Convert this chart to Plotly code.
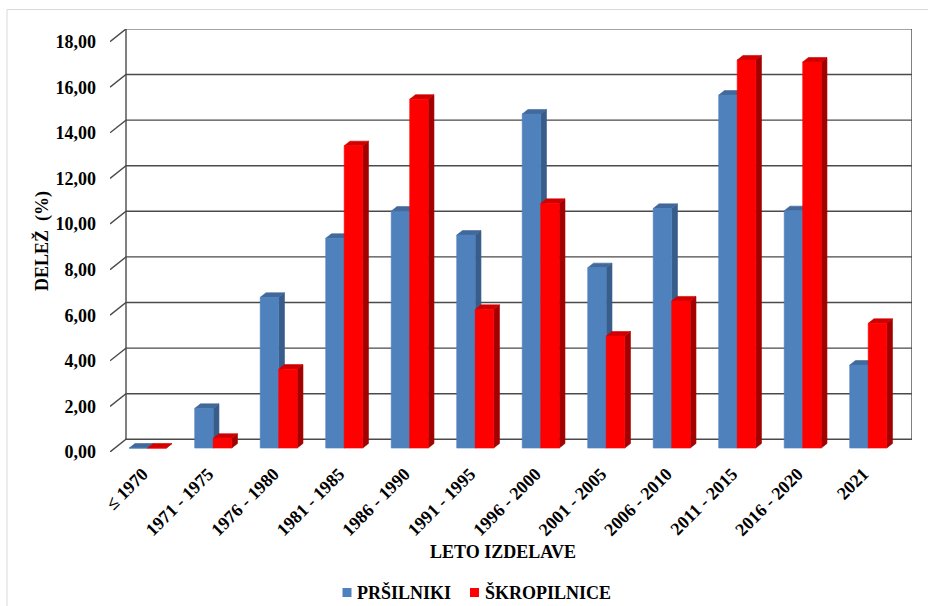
import plotly.graph_objects as go

# --- data -------------------------------------------------------------
categories = ["≤ 1970", "1971 - 1975", "1976 - 1980", "1981 - 1985", "1986 - 1990",
              "1991 - 1995", "1996 - 2000", "2001 - 2005", "2006 - 2010",
              "2011 - 2015", "2016 - 2020", "2021"]
prsilniki = [0.0, 1.74, 6.61, 9.20, 10.39, 9.34, 14.65, 7.91, 10.51, 15.48, 10.41, 3.64]
skropilnice = [0.0, 0.43, 3.46, 13.26, 15.30, 6.08, 10.73, 4.91, 6.45, 17.02, 16.93, 5.47]
y_ticks = [0, 2, 4, 6, 8, 10, 12, 14, 16, 18]
y_tick_labels = ["0,00", "2,00", "4,00", "6,00", "8,00", "10,00",
                 "12,00", "14,00", "16,00", "18,00"]
series_names = ["PRŠILNIKI", "ŠKROPILNICE"]

# --- geometry (pixels) -------------------------------------------------
W, H = 928, 606
PLOT_L, PLOT_R, PLOT_T, PLOT_B = 110, 912, 29, 452
PX_X = 65.5          # pixels per category
PX_Y = 22.8          # pixels per value unit
DX = 16 / PX_X       # depth of the chart box, x units
DY = 12.7 / PX_Y     # depth of the chart box, y units
Z0, Z1 = 0.31, 0.67  # depth slice occupied by the bars
BAR_W = 18.5 / PX_X

n = len(categories)
x_range = [-0.5, -0.5 + (PLOT_R - PLOT_L) / PX_X]
y_range = [0, (PLOT_B - PLOT_T) / PX_Y]

FONT = "Liberation Serif, Times New Roman, serif"
FS = 18
WALL = "#4a4a4a"

series_colors = [
    dict(front="#4F81BD", side="#385D8A", top="#41699B"),
    dict(front="#FF0000", side="#A30000", top="#D00000"),
]


def px_to_paper_x(px):
    return (px - PLOT_L) / (PLOT_R - PLOT_L)


def px_to_paper_y(py):
    return (PLOT_B - py) / (PLOT_B - PLOT_T)


fig = go.Figure()

# back wall: gridlines, depth diagonals and wall edges
gx, gy = [], []
for t in y_ticks:
    gx += [-0.5, -0.5 + DX, n - 0.5 + DX, None]
    gy += [t, t + DY, t + DY, None]
for xe in (-0.5 + DX, n - 0.5 + DX):
    gx += [xe, xe, None]
    gy += [DY, y_ticks[-1] + DY, None]
fig.add_trace(go.Scatter(x=gx, y=gy, mode="lines",
                         line=dict(color=WALL, width=1.4),
                         hoverinfo="skip", showlegend=False))

# 3-D looking bars: side, top and front faces per series
for s, values in enumerate([prsilniki, skropilnice]):
    faces = {"side": ([], []), "top": ([], []), "front": ([], [])}
    ddx, ddy = (Z1 - Z0) * DX, (Z1 - Z0) * DY
    for i, v in enumerate(values):
        xl = i + Z0 * DX + (s - 1) * BAR_W
        xr = xl + BAR_W
        b0, b1 = Z0 * DY, Z1 * DY
        fx, fy = faces["side"]
        fx += [xr, xr + ddx, xr + ddx, xr, xr, None]
        fy += [b0, b1, v + b1, v + b0, b0, None]
        fx, fy = faces["top"]
        fx += [xl, xr, xr + ddx, xl + ddx, xl, None]
        fy += [v + b0, v + b0, v + b1, v + b1, v + b0, None]
        fx, fy = faces["front"]
        fx += [xl, xr, xr, xl, xl, None]
        fy += [b0, b0, v + b0, v + b0, b0, None]
    for face in ("side", "top", "front"):
        fx, fy = faces[face]
        col = series_colors[s][face]
        fig.add_trace(go.Scatter(x=fx, y=fy, mode="lines", fill="toself",
                                 fillcolor=col, line=dict(color=col, width=0.6),
                                 hoverinfo="skip", showlegend=False,
                                 name=series_names[s]))

# chart border and legend drawn below the axis title
shapes = [dict(type="rect", xref="paper", yref="paper",
               x0=px_to_paper_x(7), x1=px_to_paper_x(940),
               y0=px_to_paper_y(9.5), y1=px_to_paper_y(620),
               line=dict(color="#D9D9D9", width=1), layer="below")]
annotations = []
legend_items = [(342.5, 355, 0), (470, 483, 1)]
for sq_x, tx, s in legend_items:
    shapes.append(dict(type="rect", xref="paper", yref="paper",
                       x0=px_to_paper_x(sq_x), x1=px_to_paper_x(sq_x + 9),
                       y0=px_to_paper_y(588), y1=px_to_paper_y(597),
                       fillcolor=series_colors[s]["front"], line=dict(width=0)))
    annotations.append(dict(text="<b>" + series_names[s] + "</b>",
                            xref="paper", yref="paper",
                            x=px_to_paper_x(tx), y=px_to_paper_y(592),
                            xanchor="left", yanchor="middle", showarrow=False,
                            font=dict(family=FONT, size=FS, color="black")))

annotations.append(dict(text="<b>LETO IZDELAVE</b>", xref="paper", yref="paper",
                        x=px_to_paper_x(503), y=px_to_paper_y(552),
                        xanchor="center", yanchor="middle", showarrow=False,
                        font=dict(family=FONT, size=FS, color="black")))
annotations.append(dict(text="<b>DELEŽ  (%)</b>", xref="paper", yref="paper",
                        x=px_to_paper_x(42), y=px_to_paper_y(241),
                        xanchor="center", yanchor="middle", showarrow=False,
                        textangle=-90,
                        font=dict(family=FONT, size=FS, color="black")))

fig.update_layout(
    width=W, height=H,
    margin=dict(l=PLOT_L, r=W - PLOT_R, t=PLOT_T, b=H - PLOT_B, pad=0),
    paper_bgcolor="white", plot_bgcolor="rgba(0,0,0,0)",
    showlegend=False,
    font=dict(family=FONT, size=FS, color="black"),
    shapes=shapes, annotations=annotations,
    xaxis=dict(range=x_range, tickvals=list(range(n)), ticktext=categories,
               tickangle=-45, showgrid=False, zeroline=False, showline=False,
               ticks="", tickfont=dict(family=FONT, size=FS, color="black",
                                       weight="bold"),
               ticklabelstandoff=7, fixedrange=True),
    yaxis=dict(range=y_range, tickvals=y_ticks, ticktext=y_tick_labels,
               showgrid=False, zeroline=False, showline=False, ticks="",
               tickfont=dict(family=FONT, size=FS, color="black", weight="bold"),
               ticklabelstandoff=13, fixedrange=True),
)

fig.write_html("out.html")
